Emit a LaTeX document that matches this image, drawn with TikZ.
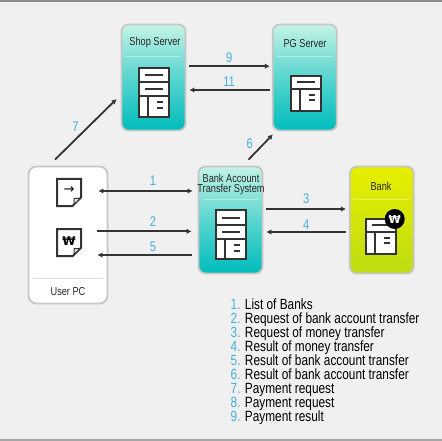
\documentclass[tikz,border=0pt]{standalone}
\usepackage{fontspec}
\setmainfont[FakeStretch=0.8]{Liberation Sans}
\newfontfamily\symfont{DejaVu Sans}
\usetikzlibrary{arrows.meta,positioning}
\definecolor{pagegray}{HTML}{F0F0F0}
\definecolor{edgegray}{HTML}{C6C6C6}
\definecolor{linedark}{HTML}{333333}
\definecolor{numblue}{HTML}{45AEDC}
\definecolor{tealtop}{HTML}{C4F3E6}
\definecolor{tealbot}{HTML}{00BCBC}
\definecolor{limetop}{HTML}{E6EF00}
\definecolor{limebot}{HTML}{BEDC12}
\definecolor{ruleteal}{HTML}{B4EEDF}
\definecolor{rulelime}{HTML}{EAF26A}

\begin{document}
\begin{tikzpicture}[
  x=1pt, y=-1pt,
  font=\fontsize{11}{11}\selectfont,
  node distance=85.5pt,
  box/.style={
    rounded corners=7pt,
    draw=edgegray,
    line width=1.8pt,
    inner sep=0pt,
    minimum width=64pt,
    minimum height=106pt
  },
  server/.style={box, top color=tealtop, bottom color=tealbot, middle color=tealtop!45!tealbot},
  title/.style={font=\fontsize{11.5}{10}\selectfont, align=center, text=black!85, inner sep=0pt},
  num/.style={font=\fontsize{14}{14}\selectfont, text=numblue, inner sep=0pt},
  arrow/.style={-{Latex[length=5pt,width=5.5pt]}, linedark, line width=1.8pt},
  icon/.style={draw=linedark, line width=2pt, fill=white},
  stroke/.style={linedark, line width=2pt},
  tall rack/.pic={
    \draw[icon] (-15,-24.5) rectangle (15,24.5);
    \draw[stroke] (-15,-10) -- (15,-10) (-15,4) -- (15,4) (-6,4) -- (-6,24.5);
    \draw[stroke] (-9,-17) -- (9,-17) (-9,-3) -- (9,-3);
    \draw[stroke] (3,10) -- (9,10) (3,16) -- (9,16);
  },
  short rack/.pic={
    \draw[icon] (-15,-17.5) rectangle (15,17.5);
    \draw[stroke] (-15,-4.5) -- (15,-4.5) (-6,-4.5) -- (-6,17.5);
    \draw[stroke] (-9,-11) -- (9,-11);
    \draw[stroke] (3,1.5) -- (9,1.5) (3,7) -- (9,7);
  },
  paper/.pic={
    \draw[icon, line join=miter] (-12,-13.5) -- (12,-13.5) -- (12,5) -- (3.5,13.5) -- (-12,13.5) -- cycle;
    \draw[linedark, line width=1pt, fill=black!8] (11,6) -- (5,6) -- (5,12) -- cycle;
  }
]

% page
\fill[pagegray] (0,0) rectangle (442,441);
\fill[black!45] (0,0) rectangle (442,2);
\fill[black!35] (0,439) rectangle (442,441);

% boxes
\node[server] (shop) at (153.5,77.5) {};
\node[server, right=of shop] (pg) {};
\node[server, minimum height=107pt] (transfer) at (230.5,220) {};
\node[box, minimum height=107pt, top color=limetop, bottom color=limebot, right=of transfer] (bank) {};
\node[box, fill=white, minimum width=79pt, minimum height=137pt, rounded corners=8pt] (pc) at (68,235) {};

% titles
\node[title] (shoptitle) at (155,42.5) {Shop Server};
\node[title] (pgtitle) at (305,43.5) {PG Server};
\node[title] (transfertitle) at (231,185) {Bank Account\\Transfer System};
\node[title] (banktitle) at (381,186.5) {Bank};
\node[title] (pctitle) at (68,291.5) {User PC};

% rules
\draw[ruleteal, line width=1pt] ([xshift=5pt,yshift=-33pt]shop.north west) -- ([xshift=-5pt,yshift=-33pt]shop.north east);
\draw[ruleteal, line width=1pt] ([xshift=5pt,yshift=-33pt]pg.north west) -- ([xshift=-5pt,yshift=-33pt]pg.north east);
\draw[ruleteal, line width=1pt] ([xshift=5pt,yshift=-34pt]transfer.north west) -- ([xshift=-5pt,yshift=-34pt]transfer.north east);
\draw[rulelime, line width=1pt] ([xshift=5pt,yshift=-34pt]bank.north west) -- ([xshift=-5pt,yshift=-34pt]bank.north east);
\draw[black!13, line width=1pt] ([xshift=5pt,yshift=-113pt]pc.north west) -- ([xshift=-5pt,yshift=-113pt]pc.north east);

% icons
\pic at (154,92.5) {tall rack};
\pic at (305.7,93.5) {short rack};
\pic at (230.7,234.7) {tall rack};
\pic at (381,236.2) {short rack};
\pic at (69,192.5) {paper};
\pic at (69,242.7) {paper};
\node[inner sep=0pt, font=\symfont\fontsize{13}{13}\selectfont] (go) at (69,190) {→};
\node[inner sep=0pt, font=\symfont\bfseries\fontsize{12}{12}\selectfont] (won) at (69,241) {₩};
\node[circle, fill=black, minimum size=20pt, inner sep=0pt, text=white, font=\symfont\bfseries\fontsize{11}{11}\selectfont] (badge) at (394.7,219) {₩};

% connectors
\draw[arrow, {Latex[length=5pt,width=5.5pt]}-{Latex[length=5pt,width=5.5pt]}, shorten <=-10pt, shorten >=5pt] ([yshift=44pt]pc.east) -- node[num, pos=.5, above=5pt] {1} ([yshift=29pt]transfer.west);
\draw[arrow, shorten <=-11pt, shorten >=6pt] ([yshift=3.7pt]pc.east) -- node[num, pos=.5, above=4pt] {2} ([yshift=-11.3pt]transfer.west);
\draw[arrow, shorten <=6pt, shorten >=-11pt] ([yshift=-35pt]transfer.west) -- node[num, pos=.5, above=2pt] {5} ([yshift=-20pt]pc.east);
\draw[arrow, shorten <=3pt, shorten >=3pt] ([yshift=11pt]transfer.east) -- node[num, above=4pt] {3} ([yshift=11pt]bank.west);
\draw[arrow, shorten <=3pt, shorten >=3pt] ([yshift=-12pt]bank.west) -- node[num, above=2pt] {4} ([yshift=-12pt]transfer.east);
\draw[arrow, shorten <=3pt, shorten >=2pt] ([yshift=11.3pt]shop.east) -- node[num, above=3pt] {9} ([yshift=11.3pt]pg.west);
\draw[arrow, shorten <=2pt, shorten >=3pt] ([yshift=-12.5pt]pg.west) -- node[num, above=3pt] {11} ([yshift=-12.5pt]shop.east);
\draw[arrow] ([shift={(-13,-6)}]pc.north) -- node[num, pos=.42, above left=2pt] {7} ([shift={(-4,21.5)}]shop.west);
\draw[arrow] ([shift={(18,-6)}]transfer.north) -- node[num, pos=.3, above left=3pt] {6} ([shift={(1,3)}]pg.south west);

% list
\node[anchor=north west, inner sep=0pt, align=left, font=\fontsize{14.8}{14}\selectfont] (legend) at (230.5,299) {%
\textcolor{numblue}{1.} List of Banks\\
\textcolor{numblue}{2.} Request of bank account transfer\\
\textcolor{numblue}{3.} Request of money transfer\\
\textcolor{numblue}{4.} Result of money transfer\\
\textcolor{numblue}{5.} Result of bank account transfer\\
\textcolor{numblue}{6.} Result of bank account transfer\\
\textcolor{numblue}{7.} Payment request\\
\textcolor{numblue}{8.} Payment request\\
\textcolor{numblue}{9.} Payment result};

\end{tikzpicture}
\end{document}
